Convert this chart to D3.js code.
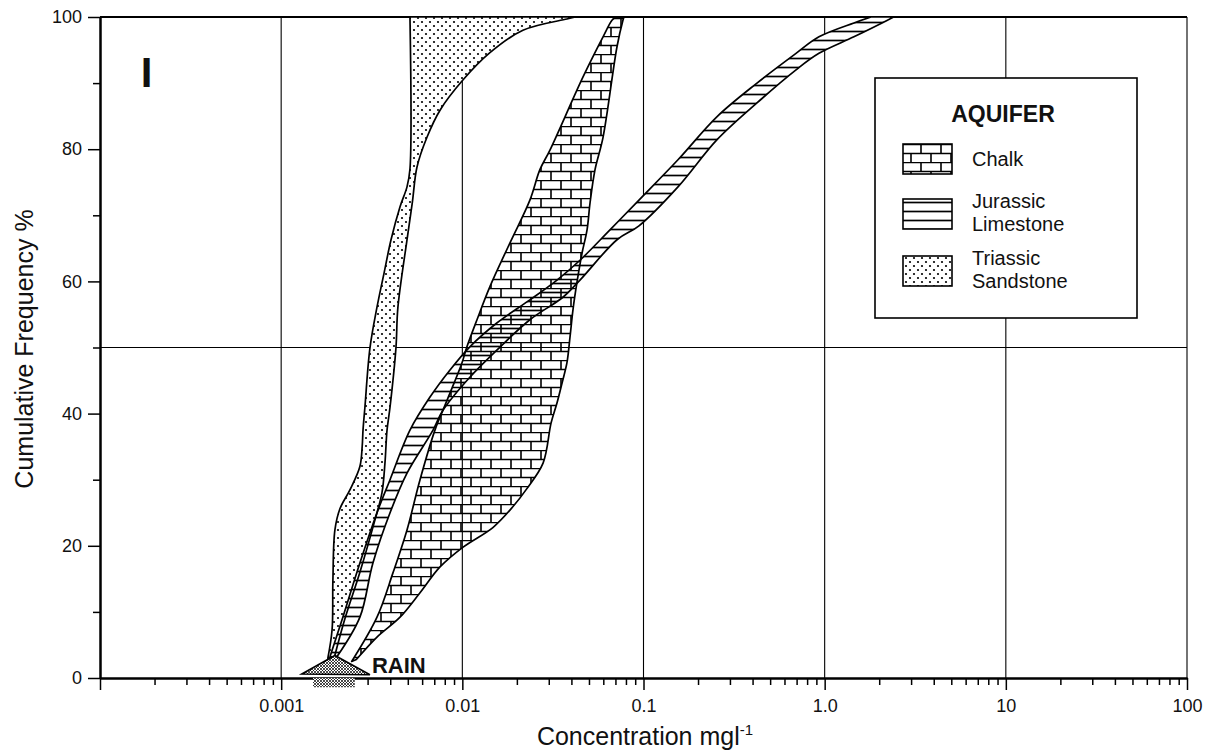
<!DOCTYPE html>
<html>
<head>
<meta charset="utf-8">
<script src="https://cdn.jsdelivr.net/npm/d3@7.9.0/dist/d3.min.js"></script>
<style>
  body { margin: 0; background: #fff; }
  svg text { font-family: "Liberation Sans", Arial, Helvetica, sans-serif; fill: #111; }
</style>
</head>
<body>
<svg id="chart" width="1214" height="754"></svg>
<script>
// axis ticks and labels
const decades = [0.001, 0.01, 0.1, 1, 10, 100];
const decadeLabels = ['0.001', '0.01', '0.1', '1.0', '10', '100'];
const yMajor = [0, 20, 40, 60, 80, 100];
const yMinor = [10, 30, 50, 70, 90];
const yGrid = [50, 100];

// band edges, bottom to top: [concentration mg/l, cumulative frequency %]
const sandstoneLeft = [[0.00181, 3.0], [0.00191, 7.3], [0.00193, 14.8], [0.00198, 22.4], [0.00211, 25.6],
  [0.0024, 28.5], [0.00272, 32], [0.0028, 35], [0.00283, 37.5], [0.0029, 41], [0.00309, 49.9],
  [0.00338, 56.1], [0.0037, 61.3], [0.00404, 66.3], [0.00453, 71.3], [0.00495, 74.3], [0.00514, 77], [0.00514, 100]];
const sandstoneRight = [[0.00196, 3.0], [0.00225, 9], [0.00272, 16], [0.0033, 24], [0.0036, 28], [0.00374, 32.5],
  [0.00384, 37.5], [0.00399, 41], [0.0043, 49.9], [0.00441, 56.1], [0.00495, 66.3], [0.0053, 72],
  [0.00562, 77.3], [0.00638, 81.8], [0.00753, 85.9], [0.0101, 90.5], [0.0142, 94.6], [0.0216, 98],
  [0.0378, 99.7], [0.042, 100]];

const jurassicLeft = [[0.00186, 3.2], [0.00219, 9.2], [0.00272, 17.4], [0.00338, 25], [0.00399, 30],
  [0.00514, 37.5], [0.00663, 42.5], [0.00855, 46.6], [0.011, 50.1], [0.0155, 53.7], [0.0236, 57.2],
  [0.0333, 60.2], [0.0446, 63.2], [0.0653, 67.8], [0.0944, 72.3], [0.155, 78.4], [0.254, 84.9],
  [0.423, 90], [0.695, 94.5], [0.93, 97], [1.45, 99.1], [1.8, 100]];
const jurassicRight = [[0.00203, 3.2], [0.00272, 9.2], [0.00321, 17.4], [0.00399, 25], [0.00495, 31],
  [0.00689, 37.5], [0.00782, 40.5], [0.011, 45.5], [0.0155, 49.6], [0.0236, 54.2], [0.0359, 57.6],
  [0.0446, 60.2], [0.0714, 66.3], [0.0944, 68.4], [0.155, 74.3], [0.254, 81.4], [0.423, 87],
  [0.695, 92], [0.93, 94.5], [1.45, 97], [2.18, 99.4], [2.4, 100]];

const chalkLeft = [[0.00245, 2.5], [0.00338, 9.2], [0.00414, 15.9], [0.00495, 22.4], [0.00584, 30],
  [0.00706, 37.5], [0.00823, 42], [0.00996, 47.7], [0.0106, 50.1], [0.01205, 54.2], [0.0142, 59.2],
  [0.0183, 65.8], [0.0236, 72.3], [0.0268, 76.9], [0.0305, 79.9], [0.0463, 90.9], [0.0598, 97],
  [0.067, 99.5], [0.0703, 100]];
const chalkRight = [[0.0026, 2.8], [0.00338, 6.2], [0.00453, 9.2], [0.00584, 12.9], [0.00753, 16.8],
  [0.0101, 19.8], [0.0148, 22.8], [0.019, 25.9], [0.0225, 28.5], [0.0279, 32.5], [0.0309, 38.6],
  [0.0333, 41.6], [0.0355, 44.6], [0.0378, 47.7], [0.0393, 51.6], [0.0408, 55.7], [0.0429, 59.8],
  [0.0458, 64.3], [0.0488, 67.8], [0.0507, 71.9], [0.054, 76.9], [0.0598, 81.8], [0.0714, 95.5],
  [0.077, 99.5], [0.078, 100]];

// rain marker
const rainHead = [[0.0013, 0.6], [0.00198, 3.4], [0.00309, 0.5]];
const rainStem = [[0.0015, 0], [0.00255, -1.4]];

const legendItems = [
  { id: 'chalk', lines: ['Chalk'] },
  { id: 'jurassic', lines: ['Jurassic', 'Limestone'] },
  { id: 'sandstone', lines: ['Triassic', 'Sandstone'] },
];

const width = 1214;
const height = 754;
const margin = { top: 17, right: 27, bottom: 76, left: 100 };
const usable = {
  left: margin.left,
  right: width - margin.right,
  top: margin.top,
  bottom: height - margin.bottom,
};

const x = d3.scaleLog().domain([1e-4, 100]).range([usable.left, usable.right]);
const y = d3.scaleLinear().domain([0, 100]).range([usable.bottom, usable.top]);

const svg = d3.select('#chart');
const defs = svg.append('defs');

// fill patterns
const chalkPat = defs.append('pattern').attr('id', 'chalk')
  .attr('patternUnits', 'userSpaceOnUse').attr('width', 20).attr('height', 18);
chalkPat.append('path')
  .attr('d', 'M0,0.5H20M0,9.5H20M1,0.5V9.5M11,9.5V18.5')
  .attr('stroke', '#000').attr('stroke-width', 1.6).attr('fill', 'none');

const jurPat = defs.append('pattern').attr('id', 'jurassic')
  .attr('patternUnits', 'userSpaceOnUse').attr('width', 10).attr('height', 9);
jurPat.append('rect').attr('width', 10).attr('height', 9).attr('fill', '#fff');
jurPat.append('path').attr('d', 'M0,4.5H10')
  .attr('stroke', '#000').attr('stroke-width', 1.7);

const sandPat = defs.append('pattern').attr('id', 'sandstone')
  .attr('patternUnits', 'userSpaceOnUse').attr('width', 8).attr('height', 8);
sandPat.append('rect').attr('width', 8).attr('height', 8).attr('fill', '#fff');
sandPat.selectAll('circle').data([[2, 2], [6, 6]]).join('circle')
  .attr('cx', (d) => d[0]).attr('cy', (d) => d[1]).attr('r', 1.1).attr('fill', '#000');

const rainPat = defs.append('pattern').attr('id', 'rainhatch')
  .attr('patternUnits', 'userSpaceOnUse').attr('width', 3).attr('height', 3);
rainPat.append('rect').attr('width', 3).attr('height', 3).attr('fill', '#fff');
rainPat.append('path').attr('d', 'M0,3L3,0M0,0L3,3')
  .attr('stroke', '#000').attr('stroke-width', 0.7);

defs.append('clipPath').attr('id', 'plot-clip')
  .append('rect')
  .attr('x', usable.left).attr('y', usable.top)
  .attr('width', usable.right - usable.left).attr('height', usable.bottom - usable.top);

// grid
const grid = svg.append('g').attr('stroke', '#000').attr('stroke-width', 1.1);
grid.selectAll('line.v').data(decades).join('line').attr('class', 'v')
  .attr('x1', (d) => x(d)).attr('x2', (d) => x(d))
  .attr('y1', usable.top).attr('y2', usable.bottom);
grid.selectAll('line.h').data(yGrid).join('line').attr('class', 'h')
  .attr('x1', usable.left).attr('x2', usable.right)
  .attr('y1', (d) => y(d)).attr('y2', (d) => y(d))
  .attr('stroke-width', (d) => (d === 100 ? 2 : 1.2));

// bands
const edge = d3.line().x((d) => x(d[0])).y((d) => y(d[1])).curve(d3.curveCatmullRom.alpha(0.5));
function bandPath(left, right) {
  const a = edge(left);
  const b = edge(right.slice().reverse());
  return a + 'L' + b.slice(1) + 'Z';
}

const bands = svg.append('g').attr('clip-path', 'url(#plot-clip)');
const sandD = bandPath(sandstoneLeft, sandstoneRight);
const jurD = bandPath(jurassicLeft, jurassicRight);
const chalkD = bandPath(chalkLeft, chalkRight);

bands.append('path').attr('d', sandD).attr('fill', 'url(#sandstone)');
bands.append('path').attr('d', jurD).attr('fill', 'url(#jurassic)');
bands.append('path').attr('d', chalkD).attr('fill', 'url(#chalk)');
bands.selectAll('path.outline').data([sandD, jurD, chalkD]).join('path')
  .attr('class', 'outline')
  .attr('d', (d) => d)
  .attr('fill', 'none').attr('stroke', '#000').attr('stroke-width', 1.7)
  .attr('stroke-linejoin', 'round');

// axes
const xMinor = [];
for (let e = -4; e < 2; e++) {
  for (let k = 2; k <= 9; k++) xMinor.push(k * Math.pow(10, e));
}

const xAxisMinor = svg.append('g')
  .attr('transform', `translate(0,${usable.bottom})`)
  .call(d3.axisBottom(x).tickValues(xMinor).tickSize(7).tickSizeOuter(0).tickFormat(''));
const xAxis = svg.append('g')
  .attr('transform', `translate(0,${usable.bottom})`)
  .call(d3.axisBottom(x).tickValues([1e-4, ...decades]).tickSize(12).tickSizeOuter(0).tickPadding(9)
    .tickFormat((d) => {
      const i = decades.indexOf(d);
      return i < 0 ? '' : decadeLabels[i];
    }));

const yAxisMinor = svg.append('g')
  .attr('transform', `translate(${usable.left},0)`)
  .call(d3.axisLeft(y).tickValues(yMinor).tickSize(7).tickSizeOuter(0).tickFormat(''));
const yAxis = svg.append('g')
  .attr('transform', `translate(${usable.left},0)`)
  .call(d3.axisLeft(y).tickValues(yMajor).tickSize(12).tickSizeOuter(0).tickPadding(6));

[xAxisMinor, xAxis, yAxisMinor, yAxis].forEach((g) => {
  g.select('.domain').attr('stroke', '#000').attr('stroke-width', 2);
  g.selectAll('.tick line').attr('stroke', '#000').attr('stroke-width', 1.5);
  g.selectAll('.tick text').attr('font-size', 18).attr('font-family', null).attr('fill', '#111');
});

// rain arrow
svg.append('rect')
  .attr('x', x(rainStem[0][0])).attr('y', y(rainStem[0][1]))
  .attr('width', x(rainStem[1][0]) - x(rainStem[0][0]))
  .attr('height', y(rainStem[1][1]) - y(rainStem[0][1]))
  .attr('fill', 'url(#rainhatch)');
svg.append('path')
  .attr('d', d3.line().x((d) => x(d[0])).y((d) => y(d[1])).curve(d3.curveLinearClosed)(rainHead))
  .attr('fill', 'url(#rainhatch)').attr('stroke', '#000').attr('stroke-width', 1.6)
  .attr('stroke-linejoin', 'miter');
svg.append('text')
  .attr('x', x(rainHead[2][0]) + 2).attr('y', y(0.7))
  .attr('font-size', 22).attr('font-weight', 'bold')
  .text('RAIN');

// panel letter
svg.append('text')
  .attr('x', 146.5).attr('y', 87)
  .attr('text-anchor', 'middle')
  .attr('font-size', 42).attr('font-weight', 'bold')
  .text('I');

// axis titles
const xTitle = svg.append('text')
  .attr('x', 645).attr('y', 745)
  .attr('text-anchor', 'middle')
  .attr('font-size', 25);
xTitle.append('tspan').text('Concentration mgl');
xTitle.append('tspan').attr('dy', -10).attr('font-size', 15).text('-1');

svg.append('text')
  .attr('transform', 'translate(33,349) rotate(-90)')
  .attr('text-anchor', 'middle')
  .attr('font-size', 25)
  .text('Cumulative Frequency %');

// legend
const legend = svg.append('g');
legend.append('rect')
  .attr('x', 875).attr('y', 78).attr('width', 262).attr('height', 240)
  .attr('fill', '#fff').attr('stroke', '#000').attr('stroke-width', 1.6);
legend.append('text')
  .attr('x', 1003).attr('y', 122).attr('text-anchor', 'middle')
  .attr('font-size', 23).attr('font-weight', 'bold')
  .text('AQUIFER');

const rowTop = [144, 199, 256];
legendItems.forEach((item, i) => {
  legend.append('rect')
    .attr('x', 903).attr('y', rowTop[i]).attr('width', 49).attr('height', 30)
    .attr('fill', item.id === 'chalk' ? '#fff' : 'none');
  legend.append('rect')
    .attr('x', 903).attr('y', rowTop[i]).attr('width', 49).attr('height', 30)
    .attr('fill', `url(#${item.id})`).attr('stroke', '#000').attr('stroke-width', 1.6);
  const t = legend.append('text').attr('x', 972).attr('font-size', 20);
  if (item.lines.length === 1) {
    t.attr('y', rowTop[i] + 22).text(item.lines[0]);
  } else {
    item.lines.forEach((line, j) => {
      t.append('tspan').attr('x', 972).attr('y', rowTop[i] + 9 + j * 23).text(line);
    });
  }
});
</script>
</body>
</html>
